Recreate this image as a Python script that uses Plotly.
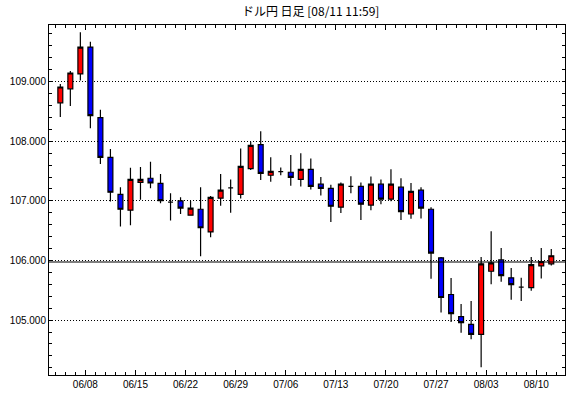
import plotly.graph_objects as go

dates = ["06/03", "06/04", "06/05", "06/08", "06/09", "06/10", "06/11", "06/12",
         "06/15", "06/16", "06/17", "06/18", "06/19", "06/22", "06/23", "06/24",
         "06/25", "06/26", "06/29", "06/30", "07/01", "07/02", "07/03", "07/06",
         "07/07", "07/08", "07/09", "07/10", "07/13", "07/14", "07/15", "07/16",
         "07/17", "07/20", "07/21", "07/22", "07/23", "07/24", "07/27", "07/28",
         "07/29", "07/30", "07/31", "08/03", "08/04", "08/05", "08/06", "08/07",
         "08/10", "08/11"]
open_ = [108.645, 108.88, 109.13, 109.58, 108.395, 107.73, 107.11, 106.845,
         107.31, 107.38, 107.295, 106.98, 107.0, 106.76, 106.86, 106.48,
         107.045, 107.22, 107.11, 107.54, 107.945, 107.43, 107.49, 107.48,
         107.36, 107.53, 107.28, 107.21, 106.895, 107.245, 107.245, 106.93,
         107.28, 107.03, 107.23, 106.78, 107.18, 106.86, 106.045, 105.43,
         105.06, 104.93, 104.76, 105.82, 106.01, 105.71, 105.555, 105.545,
         105.91, 105.945]
high = [108.96, 109.18, 109.83, 109.67, 108.53, 107.87, 107.23, 107.555,
        107.57, 107.655, 107.45, 107.13, 107.06, 107.0, 107.23, 107.08,
        107.45, 107.36, 107.88, 107.99, 108.17, 107.73, 107.56, 107.77,
        107.8, 107.71, 107.4, 107.27, 107.31, 107.415, 107.31, 107.41,
        107.36, 107.53, 107.38, 107.3, 107.23, 106.895, 106.06, 105.705,
        105.27, 105.32, 106.06, 106.49, 106.21, 105.875, 105.71, 106.06,
        106.21, 106.195]
low = [108.405, 108.59, 109.02, 108.22, 107.62, 106.99, 106.57, 106.59,
       107.02, 107.21, 106.96, 106.67, 106.78, 106.76, 106.07, 106.39,
       106.92, 106.8, 107.04, 107.52, 107.35, 107.32, 107.43, 107.255,
       107.24, 107.19, 107.09, 106.645, 106.795, 107.13, 106.68, 106.845,
       106.945, 106.995, 106.68, 106.7, 106.705, 105.695, 105.13, 104.97,
       104.79, 104.68, 104.21, 105.6, 105.645, 105.34, 105.32, 105.495,
       105.7, 105.915]
close = [108.91, 109.145, 109.58, 108.43, 107.73, 107.145, 106.86, 107.36,
         107.36, 107.30, 107.005, 106.98, 106.88, 106.88, 106.55, 107.06,
         107.18, 107.22, 107.58, 107.93, 107.46, 107.495, 107.49, 107.395,
         107.53, 107.245, 107.21, 106.91, 107.28, 107.245, 106.945, 107.28,
         107.03, 107.28, 106.82, 107.16, 106.88, 106.125, 105.38, 105.11,
         104.96, 104.76, 105.945, 105.96, 105.745, 105.595, 105.555, 105.93,
         105.98, 106.08]
prev_close = 105.975
week_labels = ["06/08", "06/15", "06/22", "06/29", "07/06", "07/13", "07/20",
               "07/27", "08/03", "08/10"]
y_ticks = [105, 106, 107, 108, 109]

xs = list(range(len(dates)))
label_pos = [dates.index(d) - 0.5 for d in week_labels]

fig = go.Figure()
fig.add_trace(go.Candlestick(
    x=xs, open=open_, high=high, low=low, close=close,
    increasing=dict(fillcolor="#FF0000", line=dict(color="black", width=1.2)),
    decreasing=dict(fillcolor="#0000FF", line=dict(color="black", width=1.2)),
    whiskerwidth=0, showlegend=False, hoverinfo="skip",
))

fig.add_shape(type="line", xref="paper", yref="y", x0=0, x1=1,
              y0=prev_close, y1=prev_close, line=dict(color="black", width=1.2))

fig.update_layout(
    width=570, height=398,
    margin=dict(l=49, r=5, t=25, b=23),
    paper_bgcolor="white", plot_bgcolor="white",
    font=dict(family="Liberation Sans", size=10, color="black"),
    title=dict(text="ドル円 日足 [08/11 11:59]", x=0.545, xanchor="center",
               y=1 - 12 / 398, yanchor="middle",
               font=dict(family="Noto Sans CJK JP", size=12, color="black")),
    showlegend=False,
)
fig.update_xaxes(
    range=[-1.13, 50.37], rangeslider=dict(visible=False),
    tickmode="array", tickvals=label_pos, ticktext=week_labels,
    ticks="inside", ticklen=5, tickcolor="black", tickwidth=1,
    minor=dict(tickmode="linear", tick0=-0.5, dtick=1, ticks="inside",
               ticklen=3, tickcolor="black", tickwidth=1, showgrid=False),
    showline=True, linecolor="black", linewidth=1, mirror="ticks",
    showgrid=False, zeroline=False,
)
fig.update_yaxes(
    range=[104.08, 109.95],
    tickmode="array", tickvals=y_ticks, tickformat=".3f",
    ticks="inside", ticklen=3, tickcolor="black", tickwidth=1,
    minor=dict(tickmode="linear", tick0=105, dtick=0.2, ticks="inside",
               ticklen=3, tickcolor="black", tickwidth=1, showgrid=False),
    showline=True, linecolor="black", linewidth=1, mirror="ticks",
    showgrid=True, gridcolor="black", gridwidth=1, griddash="1px,2px",
    zeroline=False,
)

fig.write_html("out.html")
